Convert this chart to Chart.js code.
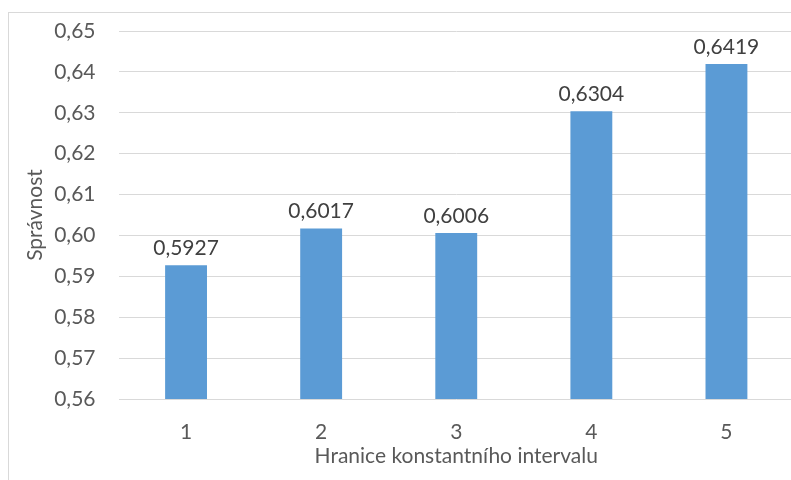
<!DOCTYPE html>
<html>
<head>
<meta charset="utf-8">
<script src="https://cdn.jsdelivr.net/npm/chart.js@4/dist/chart.umd.min.js"></script>
<style>
  html, body { margin: 0; padding: 0; background: #ffffff; overflow: hidden; }
  body { width: 791px; height: 480px; position: relative; }
  #frame {
    position: absolute; left: 8px; top: 12px;
    width: 820px; height: 480px;
    border: 1px solid #D9D9D9; box-sizing: border-box;
  }
  #wrap { position: absolute; left: 9px; top: 13px; width: 800px; height: 470px; }
</style>
</head>
<body>
<div id="frame"></div>
<div id="wrap"><canvas id="chart" width="800" height="470"></canvas></div>
<script>
// Categories and accuracy values
const categories = ['1', '2', '3', '4', '5'];
const accuracy = [0.5927, 0.6017, 0.6006, 0.6304, 0.6419];
const yTickValues = [0.56, 0.57, 0.58, 0.59, 0.60, 0.61, 0.62, 0.63, 0.64, 0.65];

const FONT = 'Lato, "Open Sans", sans-serif';
const fmt = (v, d) => v.toFixed(d).replace('.', ',');

// Draws each bar's value above it
const valueLabels = {
  id: 'valueLabels',
  afterDatasetsDraw(chart) {
    const ctx = chart.ctx;
    const meta = chart.getDatasetMeta(0);
    ctx.save();
    ctx.font = '21px ' + FONT;
    ctx.fillStyle = '#404040';
    ctx.textAlign = 'center';
    ctx.textBaseline = 'alphabetic';
    meta.data.forEach((bar, i) => {
      ctx.fillText(fmt(chart.data.datasets[0].data[i], 4), bar.x, bar.y - 10);
    });
    ctx.restore();
  }
};

new Chart(document.getElementById('chart'), {
  type: 'bar',
  data: {
    labels: categories,
    datasets: [{
      data: accuracy,
      backgroundColor: '#5B9BD5',
      borderWidth: 0,
      categoryPercentage: 1.0,
      barPercentage: 0.31
    }]
  },
  options: {
    responsive: false,
    animation: false,
    devicePixelRatio: 1,
    layout: { padding: { top: 18, right: 15, left: 0, bottom: 0 } },
    plugins: { legend: { display: false }, tooltip: { enabled: false } },
    scales: {
      x: {
        grid: { display: false, drawTicks: false },
        border: { display: false },
        ticks: { color: '#595959', font: { family: FONT, size: 21 }, padding: 21 },
        title: {
          display: true,
          text: 'Hranice konstantního intervalu',
          color: '#595959',
          font: { family: FONT, size: 21 },
          padding: { top: 0, bottom: 14 }
        },
        afterFit(scale) { scale.height = 84; }
      },
      y: {
        min: 0.56,
        max: 0.65,
        afterBuildTicks(scale) { scale.ticks = yTickValues.map(v => ({ value: v })); },
        grid: { color: '#D9D9D9', lineWidth: 1, drawTicks: false },
        border: { display: false },
        ticks: {
          color: '#595959',
          font: { family: FONT, size: 21 },
          padding: 23,
          callback: (v) => fmt(v, 2)
        },
        title: {
          display: true,
          text: 'Správnost',
          color: '#595959',
          font: { family: FONT, size: 21 },
          padding: { top: 14, bottom: 0 }
        },
        afterFit(scale) {
          scale.width = 109.5;
          scale.paddingTop = 0;
          scale.paddingBottom = 0;
        }
      }
    }
  },
  plugins: [valueLabels]
});
</script>
</body>
</html>
